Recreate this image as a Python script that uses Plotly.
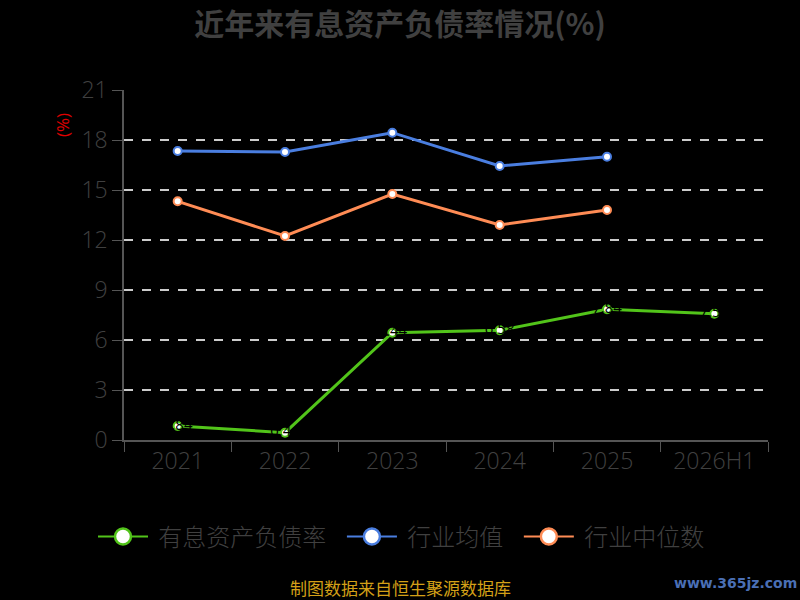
import plotly.graph_objects as go

categories = ["2021", "2022", "2023", "2024", "2025", "2026H1"]
company_ratio = [0.84, 0.44, 6.44, 6.58, 7.84, 7.58]
industry_mean = [17.34, 17.28, 18.44, 16.44, 17.00]
industry_median = [14.32, 12.24, 14.76, 12.90, 13.80]
series_names = ["有息资产负债率", "行业均值", "行业中位数"]
y_ticks = [0, 3, 6, 9, 12, 15, 18, 21]

GREEN = "#52C41A"
BLUE = "#4A7EE0"
ORANGE = "#FF8C55"
GREY = "#404040"
CJK = "Noto Sans CJK SC"
NB = "\u00a0"

fig = go.Figure()

def add_series(name, xs, ys, color, labels=False):
    fig.add_trace(go.Scatter(
        x=xs, y=ys, mode="lines+markers+text" if labels else "lines+markers",
        name=name, showlegend=False,
        line=dict(color=color, width=3),
        marker=dict(size=8, color="white", line=dict(color=color, width=2)),
        text=[f"{v:.2f}" for v in ys] if labels else None,
        textposition="middle center",
        textfont=dict(color="#000000", size=15, family="Open Sans"),
        hoverinfo="skip",
    ))
    # legend proxy with larger marker
    fig.add_trace(go.Scatter(
        x=[None], y=[None], mode="lines+markers", name=NB + name + NB * 2,
        line=dict(color=color, width=2),
        marker=dict(size=16, color="white", line=dict(color=color, width=2.5)),
    ))

add_series(series_names[0], categories, company_ratio, GREEN, labels=True)
add_series(series_names[1], categories[:5], industry_mean, BLUE)
add_series(series_names[2], categories[:5], industry_median, ORANGE)

fig.update_layout(
    width=800, height=600,
    paper_bgcolor="#000000", plot_bgcolor="#000000",
    margin=dict(l=124, r=32, t=90, b=160),
    title=dict(text="<b>近年来有息资产负债率情况(%)</b>", x=0.5, xanchor="center",
               y=0.959, yanchor="middle",
               font=dict(family=CJK, size=30, color="#404040")),
    font=dict(family="Open Sans", color=GREY),
    legend=dict(orientation="h", x=(93 - 124) / 644, xanchor="left", y=-0.277, yanchor="middle",
                font=dict(family=CJK, size=24, color="#404040", weight=300),
                bgcolor="rgba(0,0,0,0)", itemwidth=50, tracegroupgap=0),
    xaxis=dict(
        type="category", categoryorder="array", categoryarray=categories,
        range=[-0.5, len(categories) - 0.5],
        showline=True, linecolor="#555555", linewidth=1.5,
        ticks="outside", tickson="boundaries", ticklen=10, tickcolor="#555555",
        tickfont=dict(size=23, color=GREY, family="Open Sans", weight=300),
        showgrid=False, zeroline=False,
    ),
    yaxis=dict(
        range=[0, 21], tickmode="array", tickvals=y_ticks,
        ticktext=[str(v) for v in y_ticks],
        showline=True, linecolor="#555555", linewidth=1.5,
        ticks="outside", ticklen=10, tickcolor="#555555",
        tickfont=dict(size=23, color=GREY, family="Open Sans", weight=300),
        showgrid=True, gridcolor="#CCCCCC", griddash="dash", gridwidth=1.5,
        zeroline=False,
    ),
    annotations=[
        dict(text="(%)", textangle=-90, xref="paper", yref="paper",
             x=(62 - 124) / 644, y=(440 - 125) / 350, xanchor="center", yanchor="middle",
             showarrow=False, font=dict(color="#E00000", size=17, family="Open Sans")),
        dict(text="制图数据来自恒生聚源数据库", xref="paper", yref="paper",
             x=(400 - 124) / 644, y=(440 - 587) / 350, xanchor="center", yanchor="middle",
             showarrow=False, font=dict(color="#D4A017", size=17, family=CJK)),
        dict(text="<b>www.365jz.com</b>", xref="paper", yref="paper",
             x=(735 - 124) / 644, y=(440 - 583) / 350, xanchor="center", yanchor="middle",
             showarrow=False, font=dict(color="#4A6FB5", size=14, family="DejaVu Sans")),
    ],
)

fig.write_html("out.html", config={"displayModeBar": False},
               post_script="document.body.style.margin='0';document.body.style.background='#000';")
